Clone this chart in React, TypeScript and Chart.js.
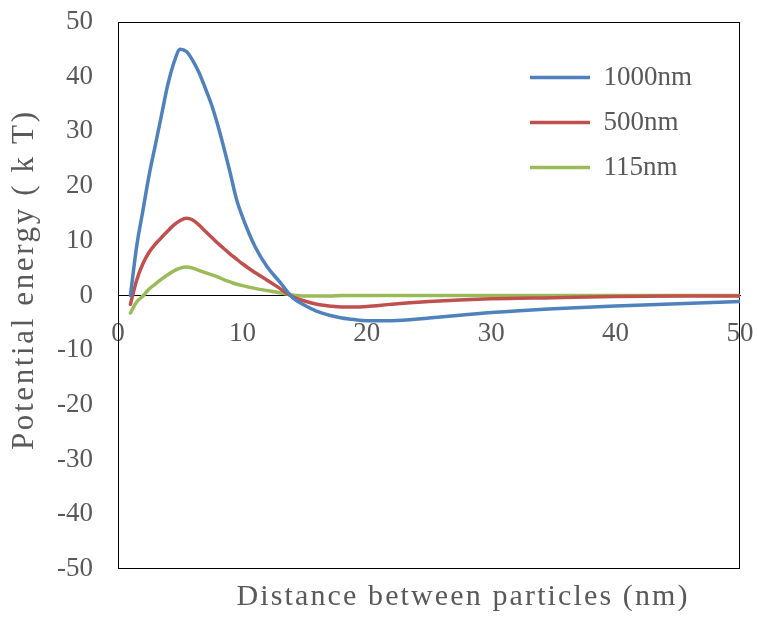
import React, { useEffect, useRef } from 'react';
import { Chart, registerables } from 'chart.js';

Chart.register(...registerables);

// ---- data ----
const distances = [1, 1.5, 2, 2.5, 3, 3.5, 4, 4.5, 5, 5.5, 6, 6.5, 7, 7.5, 8, 8.5, 9, 9.5, 10, 11, 12, 13, 14, 15, 16, 17, 18, 19, 20, 22, 25, 30, 35, 40, 45, 50];
const energy1000nm = [0, 9, 15.5, 22, 27.5, 33, 38.5, 42.6, 45.0, 44.6, 43, 40.8, 38, 35, 31.3, 27.1, 22.6, 17.8, 14.4, 9.0, 5.2, 2.5, -0.3, -1.8, -2.9, -3.6, -4.1, -4.4, -4.6, -4.6, -4.1, -3.1, -2.4, -1.9, -1.5, -1.1];
const energy500nm = [-1.6, 2.8, 5.8, 7.9, 9.4, 10.6, 11.8, 12.9, 13.7, 14.1, 13.8, 12.9, 11.8, 10.7, 9.6, 8.6, 7.6, 6.7, 5.8, 4.2, 2.8, 1.3, -0.2, -1.0, -1.6, -1.9, -2.1, -2.1, -2.0, -1.6, -1.1, -0.6, -0.4, -0.2, -0.1, -0.1];
const energy115nm = [-3.2, -1.2, -0.1, 1.2, 2.1, 3.0, 3.8, 4.5, 5.0, 5.2, 5.0, 4.6, 4.2, 3.8, 3.4, 2.9, 2.5, 2.1, 1.8, 1.3, 0.9, 0.5, 0.1, -0.1, -0.1, -0.1, 0, 0, 0, 0, 0, 0, 0, 0, 0, 0];
const seriesLabels = ['1000nm', '500nm', '115nm'];
const seriesColors = ['#4F81BD', '#C0504D', '#9BBB59'];
const xTitle = 'Distance between particles (nm)';
const yTitle = 'Potential energy ( k T)';

const TEXT = '#595959';
const SERIF = '"Liberation Serif", "Times New Roman", serif';

function drawSpacedText(ctx: CanvasRenderingContext2D, text: string, target: number) {
  const natural = ctx.measureText(text).width;
  const extra = Math.max(0, (target - natural) / Math.max(1, text.length - 1));
  (ctx as any).letterSpacing = extra + 'px';
  ctx.fillText(text, extra / 2, 0);
  (ctx as any).letterSpacing = '0px';
}

const framePlugin = {
  id: 'frameAndTitles',
  beforeDatasetsDraw(chart: any) {
    const { ctx, chartArea: a } = chart;
    ctx.save();
    ctx.strokeStyle = '#000000';
    ctx.lineWidth = 1;
    ctx.strokeRect(a.left + 0.5, a.top + 0.5, a.right - a.left - 1, a.bottom - a.top - 1);
    ctx.restore();
  },
  afterDraw(chart: any) {
    const { ctx } = chart;
    ctx.save();
    ctx.fillStyle = TEXT;
    ctx.font = '30px ' + SERIF;
    ctx.textAlign = 'center';
    ctx.textBaseline = 'alphabetic';
    ctx.translate(462, 605);
    drawSpacedText(ctx, xTitle, 451);
    ctx.restore();

    ctx.save();
    ctx.fillStyle = TEXT;
    ctx.font = '31px ' + SERIF;
    ctx.textAlign = 'center';
    ctx.textBaseline = 'middle';
    ctx.translate(25, 281);
    ctx.rotate(-Math.PI / 2);
    drawSpacedText(ctx, yTitle, 338);
    ctx.restore();
  },
};

const legendPlacePlugin = {
  id: 'legendPlace',
  afterLayout(chart: any) {
    const lg = chart.legend;
    if (!lg) return;
    lg.left = 512;
    lg.top = 46;
    lg.right = 740;
    lg.bottom = 320;
    lg.width = lg.right - lg.left;
    lg.height = lg.bottom - lg.top;
  },
};

function zeroPadding(s: any) {
  s.paddingTop = 0;
  s.paddingBottom = 0;
  s.paddingLeft = 0;
  s.paddingRight = 0;
}

export default function App() {
  const canvasRef = useRef<HTMLCanvasElement | null>(null);

  useEffect(() => {
    const canvas = canvasRef.current;
    if (!canvas) return;
    const allSeries = [energy1000nm, energy500nm, energy115nm];
    const chart = new Chart(canvas, {
      type: 'line',
      data: {
        datasets: allSeries.map((vals, i) => ({
          label: seriesLabels[i],
          data: distances.map((d, j) => ({ x: d, y: vals[j] })),
          borderColor: seriesColors[i],
          backgroundColor: seriesColors[i],
          borderWidth: 3.5,
          pointRadius: 0,
          pointHoverRadius: 0,
          fill: false,
          cubicInterpolationMode: 'monotone' as const,
          borderCapStyle: 'round' as const,
        })),
      },
      options: {
        responsive: false,
        animation: false,
        events: [],
        layout: { padding: { left: 0, top: 22, right: 18, bottom: 56 } },
        scales: {
          x: {
            type: 'linear',
            position: { y: 0 } as any,
            min: 0,
            max: 50,
            grid: { display: false, drawTicks: false },
            border: { display: true, color: '#000000', width: 1 },
            ticks: { stepSize: 10, padding: 22, color: TEXT, font: { family: SERIF, size: 27 }, maxRotation: 0 },
            afterFit: (s: any) => { s.height = 0; zeroPadding(s); },
          },
          y: {
            type: 'linear',
            min: -50,
            max: 50,
            grid: { display: false, drawTicks: false },
            border: { display: false },
            ticks: { stepSize: 10, padding: 25, color: TEXT, font: { family: SERIF, size: 27 } },
            afterFit: (s: any) => { s.width = 118; zeroPadding(s); },
          },
        },
        plugins: {
          legend: {
            display: true,
            position: 'chartArea' as any,
            align: 'start',
            labels: {
              usePointStyle: true,
              pointStyle: 'line',
              pointStyleWidth: 60,
              padding: 18,
              color: TEXT,
              textAlign: 'left',
              font: { family: SERIF, size: 27 },
            },
          },
          tooltip: { enabled: false },
          title: { display: false },
        },
      },
      plugins: [framePlugin, legendPlacePlugin],
    });
    return () => chart.destroy();
  }, []);

  return (
    <div style={{ position: 'absolute', left: 0, top: 0, width: 758, height: 625, background: '#ffffff' }}>
      <canvas ref={canvasRef} width={758} height={625} style={{ display: 'block' }} />
    </div>
  );
}
